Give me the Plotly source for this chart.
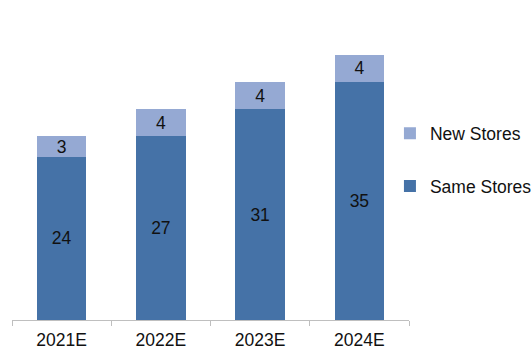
import plotly.graph_objects as go

# Store revenue build-up by year
years = ["2021E", "2022E", "2023E", "2024E"]
same_stores = [24, 27, 31, 35]
new_stores = [3, 4, 4, 4]

SAME_COLOR = "#4572A7"
NEW_COLOR = "#95A9D3"
FONT = "Liberation Sans, Arial, sans-serif"
FS = 17.5

fig = go.Figure()
fig.add_trace(go.Bar(
    x=years, y=same_stores, name="Same Stores",
    marker=dict(color=SAME_COLOR, line=dict(width=0)),
    text=same_stores, textposition="inside", insidetextanchor="middle",
    textangle=0, textfont=dict(color="#111111", size=FS, family=FONT),
    legendgroup="same", legendrank=2, width=0.5,
))
fig.add_trace(go.Bar(
    x=years, y=new_stores, name="New Stores",
    marker=dict(color=NEW_COLOR, line=dict(width=0)),
    text=new_stores, textposition="inside", insidetextanchor="middle",
    textangle=0, textfont=dict(color="#111111", size=FS, family=FONT),
    legendgroup="new", legendrank=1, width=0.5,
))

fig.update_layout(
    barmode="stack",
    width=531, height=349,
    margin=dict(l=12, r=122, t=48, b=29, autoexpand=False),
    paper_bgcolor="white", plot_bgcolor="white",
    font=dict(family=FONT, size=FS, color="#111111"),
    uniformtext=dict(minsize=FS, mode="show"),
    showlegend=True,
    legend=dict(
        x=0.952, xanchor="left", y=0.752, yanchor="top",
        traceorder="grouped", tracegroupgap=27,
        font=dict(size=FS, color="#111111", family=FONT),
        bgcolor="rgba(0,0,0,0)", itemwidth=30,
    ),
    xaxis=dict(
        showline=True, linecolor="#BFBFBF", linewidth=1,
        ticks="outside", tickson="boundaries", ticklen=5, tickcolor="#BFBFBF",
        ticklabelstandoff=4,
        tickfont=dict(size=FS, color="#111111", family=FONT),
        showgrid=False,
    ),
    yaxis=dict(range=[0, 40], visible=False, showgrid=False),
)

fig.write_html("out.html")
